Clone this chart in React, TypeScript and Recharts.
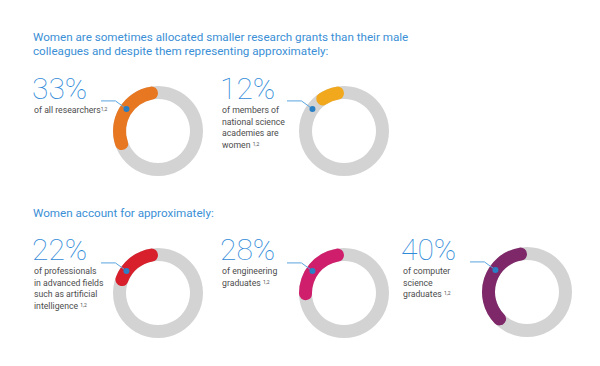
import { PieChart, Pie, Cell } from "recharts";

const labels = ["33%", "12%", "22%", "28%", "40%"];
const values = [33, 12, 22, 28, 40];
const colors = ["#e87722", "#f2a81d", "#d7202b", "#cf1f6c", "#7e2869"];
const captions = [
  ["of all researchers"],
  ["of members of", "national science", "academies are", "women "],
  ["of professionals", "in advanced fields", "such as artificial", "intelligence "],
  ["of engineering", "graduates "],
  ["of computer", "science", "graduates "],
];
const headings = [
  ["Women are sometimes allocated smaller research grants than their male", "colleagues and despite them representing approximately:"],
  ["Women account for approximately:"],
];

// layout of each donut: centre, and where its text starts
const layout = [
  { cx: 153, cy: 126, tx: 34, ty: 75 },
  { cx: 339, cy: 126, tx: 222, ty: 75 },
  { cx: 153, cy: 288, tx: 34, ty: 236 },
  { cx: 339, cy: 288, tx: 222, ty: 236 },
  { cx: 522, cy: 287, tx: 403, ty: 236 },
];

const OUTER = 45;
const INNER = 32;
const BLUE = "#3b8fd6";

const RAD = Math.PI / 180;

function makeLeader(i: number) {
  return (props: any) => {
    if (props.index !== 0) return null;
    const { cx, cy } = props;
    const mid = (INNER + OUTER) / 2;
    const dx = cx + mid * Math.cos(145 * RAD);
    const dy = cy - mid * Math.sin(145 * RAD);
    const ex = dx - 11;
    const ey = dy - 8;
    return (
      <g key={`leader-${i}`}>
        <polyline points={`${cx - 57},${ey} ${ex},${ey} ${dx},${dy}`} fill="none" stroke="#5aa5df" strokeWidth={1} />
        <circle cx={dx} cy={dy} r={3} fill="#2a7fc5" />
      </g>
    );
  };
}

export default function App() {
  return (
    <div style={{ position: "fixed", left: 0, top: 0, width: 600, height: 366, background: "#fff", fontFamily: "Roboto, sans-serif" }}>
      <PieChart width={600} height={366} style={{ position: "absolute", left: 0, top: 0 }}>
        {values.map((v, i) => (
          <Pie
            key={`bg-${i}`}
            data={[{ v: 100 }]}
            dataKey="v"
            cx={layout[i].cx}
            cy={layout[i].cy}
            innerRadius={INNER}
            outerRadius={OUTER}
            startAngle={90}
            endAngle={450}
            fill="#d3d3d3"
            stroke="none"
            isAnimationActive={false}
          />
        ))}
        {values.map((v, i) => (
          <Pie
            key={`fg-${i}`}
            data={[{ v }, { v: 100 - v }]}
            dataKey="v"
            cx={layout[i].cx}
            cy={layout[i].cy}
            innerRadius={INNER}
            outerRadius={OUTER}
            startAngle={90}
            endAngle={450}
            cornerRadius={(OUTER - INNER) / 2}
            stroke="none"
            label={makeLeader(i)}
            labelLine={false}
            isAnimationActive={false}
          >
            <Cell fill={colors[i]} />
            <Cell fill="transparent" />
          </Pie>
        ))}
      </PieChart>

      <div style={{ position: "absolute", left: 33, top: 30, fontSize: 11.65, lineHeight: "14px", color: BLUE, whiteSpace: "nowrap" }}>
        {headings[0].map((t) => <div key={t}>{t}</div>)}
      </div>
      <div style={{ position: "absolute", left: 33, top: 206, fontSize: 11.65, lineHeight: "14px", color: BLUE, whiteSpace: "nowrap" }}>
        {headings[1].map((t) => <div key={t}>{t}</div>)}
      </div>

      {labels.map((l, i) => (
        <div key={l} style={{ position: "absolute", left: layout[i].tx, top: layout[i].ty, whiteSpace: "nowrap" }}>
          <div style={{ fontSize: 30, fontWeight: 100, lineHeight: "28px", color: "#2f8ad8", marginLeft: -2 }}>{l}</div>
          <div style={{ fontSize: 8.7, lineHeight: "11.5px", color: "#4d4d4d", marginTop: 2 }}>
            {captions[i].map((c, j) => (
              <div key={j}>
                {c}
                {j === captions[i].length - 1 && <sup style={{ fontSize: 5, verticalAlign: "top", position: "relative", top: -1 }}>1,2</sup>}
              </div>
            ))}
          </div>
        </div>
      ))}
    </div>
  );
}
